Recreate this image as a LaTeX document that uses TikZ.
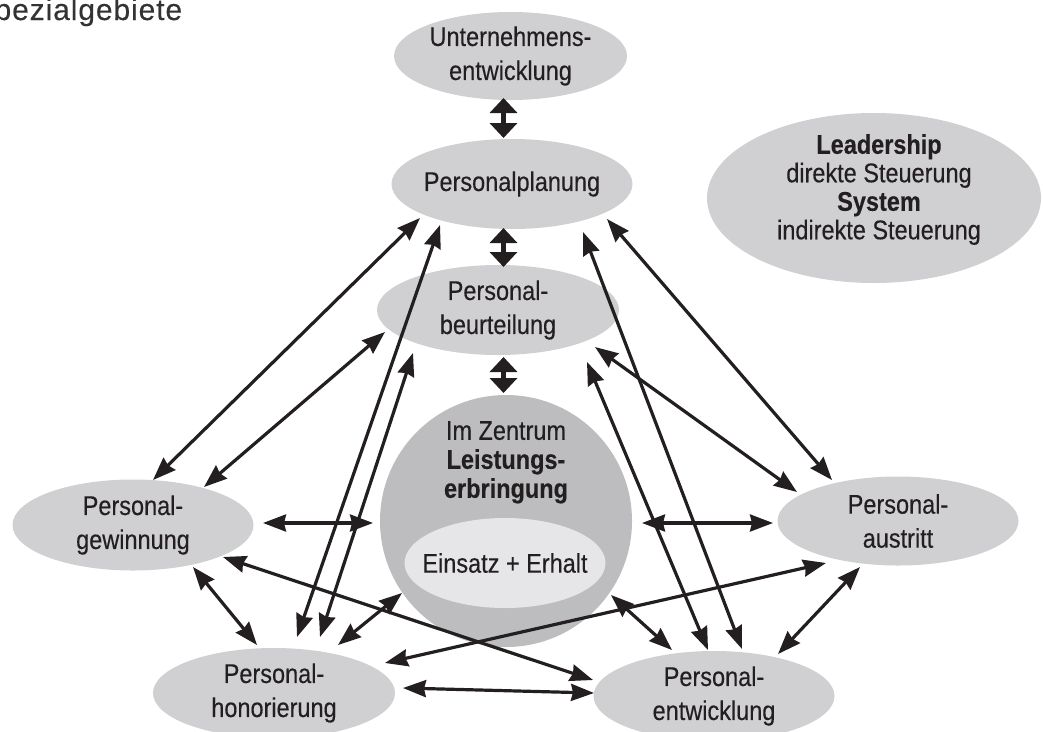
\documentclass[tikz,border=0pt]{standalone}
\usepackage{fontspec}
\setmainfont{Liberation Sans}[FakeStretch=0.87, FakeBold=0.3]
\newfontfamily\headfont{Liberation Sans}[LetterSpace=3, FakeBold=0.2]
\usepackage{xcolor}
\usepackage{tikz}
\usetikzlibrary{arrows.meta,shapes.geometric}
\definecolor{ink}{HTML}{231F20}
\definecolor{headgray}{HTML}{333335}
\definecolor{fillblob}{HTML}{D0D0D2}
\definecolor{fillcore}{HTML}{BDBDBF}
\definecolor{fillinner}{HTML}{E6E6E8}
\tikzset{
  blob/.style={ellipse, fill=fillblob, inner xsep=-15pt, inner ysep=0pt, align=center,
    text=ink, font=\fontsize{27}{34}\selectfont},
  txt/.style={inner sep=0pt, align=center, text=ink, font=\fontsize{27}{29}\selectfont},
  arr/.style={{Stealth[length=23pt, width=17pt, inset=2pt]}-{Stealth[length=23pt, width=17pt, inset=2pt]},
    line width=3.2pt, draw=ink},
  fatarr/.style={{Triangle[length=15pt, width=27pt]}-{Triangle[length=15pt, width=27pt]},
    line width=4.5pt, draw=ink},
}

\begin{document}
\begin{tikzpicture}[x=1pt, y=-1pt]
\useasboundingbox (0,0) rectangle (1043,731);

\node[anchor=base west, inner sep=0pt, text=headgray, font=\headfont\fontsize{30}{34}\selectfont] (title) at (-26.5,20) {Spezialgebiete};

% fields around the centre
\node[blob, minimum width=233pt, minimum height=88pt] (unt) at (510.5,56) {Unternehmens-\\entwicklung};
\node[blob, minimum width=241pt, minimum height=90pt] (plan) at (512,184) {Personalplanung};
\node[blob, minimum width=242pt, minimum height=90pt] (beur) at (498,310) {Personal-\\beurteilung};
\node[blob, minimum width=241pt, minimum height=91pt] (gew) at (133,525) {Personal-\\gewinnung};
\node[blob, minimum width=242pt, minimum height=90pt] (hon) at (274,693) {Personal-\\honorierung};
\node[blob, minimum width=241pt, minimum height=89pt] (aus) at (898,521) {Personal-\\austritt};
\node[blob, minimum width=241pt, minimum height=90pt] (ent) at (714,696) {Personal-\\entwicklung};

% centre
\node[circle, fill=fillcore, minimum size=252pt, inner sep=0pt] (core) at (506,521) {};
\node[txt, anchor=north] (coretxt) at (506,421) {Im Zentrum\\\textbf{Leistungs-}\\\textbf{erbringung}};
\node[blob, fill=fillinner, minimum width=201pt, minimum height=90pt] (eins) at (505,563) {Einsatz + Erhalt};

% key
\node[blob, minimum width=334pt, minimum height=170pt] (lead) at (874,198) {};
\node[txt, anchor=north, font=\fontsize{27}{28.5}\selectfont] (leadtxt) at (879,134) {\textbf{Leadership}\\direkte Steuerung\\\textbf{System}\\indirekte Steuerung};

% axis
\draw[fatarr] ([shift={(-7,42)}]unt.center) -- ([shift={(-8.5,-46)}]plan.center);
\draw[fatarr] ([shift={(-8.5,44)}]plan.center) -- ([shift={(5.5,-43)}]beur.center);
\draw[fatarr] ([shift={(5.5,47)}]beur.center) -- ([shift={(-2.5,-128)}]core.center);

% links
\draw[arr] ([shift={(20,-45)}]gew.center) -- ([shift={(-92,34)}]plan.center);
\draw[arr] ([shift={(71,-38)}]gew.center) -- ([shift={(-113,22)}]beur.center);
\draw[arr] ([shift={(130,-2)}]gew.center) -- ([shift={(-133,2)}]core.center);
\draw[arr] ([shift={(60,42)}]gew.center) -- ([shift={(-17,-48)}]hon.center);
\draw[arr] ([shift={(90,32)}]gew.center) -- ([shift={(-121,-16)}]ent.center);
\draw[arr] ([shift={(23,-56)}]hon.center) -- ([shift={(-72,41)}]plan.center);
\draw[arr] ([shift={(46,-56)}]hon.center) -- ([shift={(-85,43)}]beur.center);
\draw[arr] ([shift={(64,-48)}]hon.center) -- ([shift={(-104,72)}]core.center);
\draw[arr] ([shift={(111,-30)}]hon.center) -- ([shift={(-72,42)}]aus.center);
\draw[arr] ([shift={(129,-5)}]hon.center) -- ([shift={(-120,-3)}]ent.center);
\draw[arr] ([shift={(28,-47)}]ent.center) -- ([shift={(71,48)}]plan.center);
\draw[arr] ([shift={(-6,-46)}]ent.center) -- ([shift={(89,52)}]beur.center);
\draw[arr] ([shift={(-42,-46)}]ent.center) -- ([shift={(105,74)}]core.center);
\draw[arr] ([shift={(64,-42)}]ent.center) -- ([shift={(-38,46)}]aus.center);
\draw[arr] ([shift={(-66,-41)}]aus.center) -- ([shift={(95,35)}]plan.center);
\draw[arr] ([shift={(-101,-29)}]aus.center) -- ([shift={(97,37)}]beur.center);
\draw[arr] ([shift={(-125,2)}]aus.center) -- ([shift={(136,2)}]core.center);

\end{tikzpicture}
\end{document}
